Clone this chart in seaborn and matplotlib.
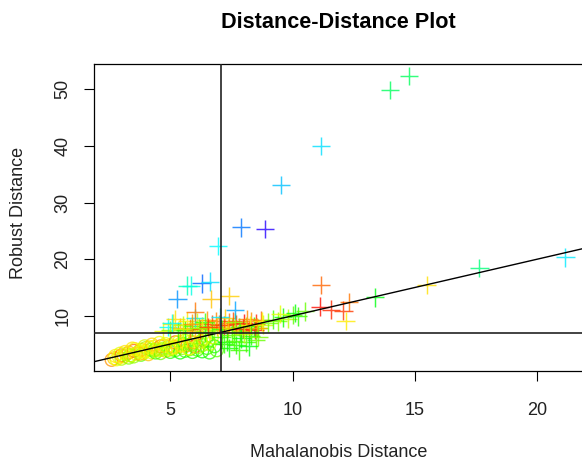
import matplotlib
matplotlib.use("Agg")
import matplotlib.pyplot as plt
import seaborn as sns
import pandas as pd
import numpy as np

# ---------------- data ----------------
# regular points (both distances below cutoff) -> circles
md_regular = [2.6, 2.7, 2.8, 2.9, 3.0, 3.0, 3.1, 3.2, 3.3, 3.3, 3.4, 3.5, 3.5, 3.6, 3.7, 3.8, 3.8, 3.9, 4.0, 4.0,
              4.1, 4.2, 4.2, 4.3, 4.4, 4.4, 4.5, 4.6, 4.6, 4.7, 4.8, 4.8, 4.9, 5.0, 5.0, 5.1, 5.2, 5.2, 5.3, 5.4,
              5.4, 5.5, 5.6, 5.6, 5.7, 5.8, 5.8, 5.9, 6.0, 6.0, 6.1, 6.2, 6.3, 6.3, 6.4, 6.5, 6.6, 6.6, 6.7, 6.8, 6.9,
              2.75, 2.95, 3.15, 3.35, 3.55, 3.75, 3.95, 4.15, 4.35, 4.55, 4.75, 4.95, 5.15, 5.35, 5.55, 5.75, 5.95,
              6.15, 6.35, 6.55, 3.45, 3.85, 4.25, 4.65, 5.05, 5.45, 5.85, 6.25]
rd_regular = [2.2, 2.5, 2.3, 2.7, 2.4, 3.0, 2.8, 3.2, 2.6, 3.5, 3.0, 3.8, 2.8, 3.3, 3.6, 4.0, 3.1, 3.4, 3.8, 4.3,
              3.2, 4.0, 3.6, 4.5, 3.5, 4.1, 3.9, 4.6, 3.4, 4.2, 3.8, 5.0, 4.4, 3.6, 4.8, 4.1, 5.3, 3.9, 4.6, 3.5,
              5.0, 4.3, 5.6, 3.8, 4.8, 4.1, 5.4, 3.6, 4.6, 5.9, 4.0, 5.2, 3.7, 4.8, 5.7, 4.3, 3.5, 5.0, 6.2, 4.6, 3.9,
              2.9, 3.3, 3.6, 3.0, 4.1, 3.3, 4.6, 4.4, 3.9, 5.2, 4.7, 4.0, 4.5, 5.4, 5.0, 4.2, 5.3,
              4.5, 5.9, 5.5, 4.2, 3.7, 4.9, 4.0, 4.3, 4.7, 4.9, 5.5]
val_regular = [0.10, 0.14, 0.18, 0.16, 0.22, 0.08, 0.15, 0.20, 0.25, 0.12, 0.18, 0.07, 0.24, 0.16, 0.21, 0.14, 0.28, 0.19, 0.17, 0.23,
               0.13, 0.26, 0.18, 0.15, 0.30, 0.20, 0.16, 0.09, 0.27, 0.22, 0.14, 0.18, 0.25, 0.31, 0.17, 0.21, 0.07, 0.29, 0.19, 0.33,
               0.16, 0.24, 0.20, 0.30, 0.12, 0.27, 0.18, 0.32, 0.06, 0.22, 0.29, 0.17, 0.33, 0.25, 0.14, 0.30, 0.32, 0.20, 0.18, 0.31, 0.28,
               0.16, 0.19, 0.15, 0.22, 0.17, 0.13, 0.20, 0.16, 0.24, 0.18, 0.15, 0.21, 0.14, 0.19, 0.26, 0.17, 0.12,
               0.23, 0.20, 0.27, 0.16, 0.18, 0.14, 0.22, 0.19, 0.15, 0.25, 0.21]

# flagged points -> crosses
md_flagged = [4.7, 4.9, 5.0, 5.1, 5.3, 5.4, 5.5, 5.6, 5.7, 5.8, 5.9, 6.0, 6.1, 6.2, 6.3, 6.4, 6.5, 6.6, 6.7, 6.8, 6.9, 5.2, 6.0, 6.4, 6.85,
              7.1, 7.2, 7.3, 7.4, 7.5, 7.6, 7.7, 7.8, 7.9, 8.0, 8.1, 8.2, 8.3, 8.4, 8.5, 8.6, 8.7, 8.8, 7.25, 7.55, 7.85, 8.15, 8.45, 8.75, 9.0,
              5.5, 5.9, 6.3, 6.7, 7.0, 7.35, 7.65, 7.95, 8.25, 8.55, 6.15, 6.55,
              7.1, 7.3, 7.5, 7.7, 7.9, 8.1, 8.3, 8.5, 7.4, 7.8, 8.2, 8.6, 7.2, 7.6, 8.0,
              9.2, 9.4, 9.6, 9.8, 10.0, 10.2, 10.5, 9.5, 10.1,
              14.75, 13.97, 11.15, 9.52, 7.89, 8.87, 6.95, 5.70, 5.85, 6.28, 6.62, 5.28, 6.66, 7.41, 6.00, 7.64, 7.03, 5.05,
              11.15, 11.11, 11.56, 12.30, 12.07, 12.16, 13.36, 15.47, 17.62, 21.14]
rd_flagged = [7.3, 8.0, 7.5, 8.6, 7.2, 7.9, 8.3, 7.4, 9.0, 7.7, 8.1, 7.3, 8.8, 7.6, 8.2, 7.1, 9.2, 7.8, 8.5, 7.4, 8.0, 9.4, 9.6, 8.9, 9.1,
              7.6, 8.3, 7.2, 8.8, 7.9, 7.4, 8.5, 8.0, 7.3, 8.7, 8.2, 7.6, 9.0, 8.1, 8.6, 7.8, 9.2, 8.4, 9.6, 9.1, 7.1, 9.4, 7.5, 9.0, 8.8,
              7.6, 8.6, 7.9, 7.2, 8.4, 7.8, 8.9, 7.7, 8.3, 7.9, 7.9, 8.0,
              6.2, 5.4, 6.6, 4.8, 6.0, 5.3, 6.5, 5.8, 4.3, 3.9, 4.6, 6.3, 5.0, 5.6, 6.8,
              9.3, 9.0, 9.7, 9.5, 10.1, 9.9, 10.8, 10.3, 10.5,
              52.35, 49.9, 40.0, 33.1, 25.6, 25.3, 22.3, 15.3, 15.3, 15.7, 16.0, 12.95, 12.95, 13.5, 10.7, 11.0, 9.8, 8.7,
              15.4, 11.6, 11.1, 12.4, 10.9, 9.1, 13.25, 15.4, 18.4, 20.3]
val_flagged = [0.18, 0.50, 0.25, 0.15, 0.30, 0.12, 0.22, 0.33, 0.16, 0.08, 0.28, 0.14, 0.20, 0.03, 0.26, 0.32, 0.10, 0.18, 0.05, 0.24, 0.13, 0.15, 0.52, 0.30, 0.09,
               0.30, 0.02, 0.15, 0.08, 0.25, 0.18, 0.04, 0.28, 0.12, 0.01, 0.22, 0.06, 0.10, 0.32, 0.03, 0.27, 0.07, 0.20, 0.14, 0.05, 0.30, 0.09, 0.02, 0.17, 0.26,
               0.20, 0.10, 0.16, 0.29, 0.06, 0.13, 0.24, 0.03, 0.18, 0.11, 0.25, 0.04,
               0.30, 0.33, 0.28, 0.31, 0.34, 0.29, 0.32, 0.27, 0.33, 0.30, 0.35, 0.26, 0.31, 0.29, 0.22,
               0.30, 0.25, 0.33, 0.22, 0.28, 0.31, 0.27, 0.19, 0.34,
               0.40, 0.40, 0.53, 0.55, 0.60, 0.70, 0.51, 0.46, 0.49, 0.61, 0.53, 0.58, 0.13, 0.14, 0.08, 0.57, 0.52, 0.50,
               0.07, 0.01, 0.03, 0.08, 0.04, 0.16, 0.35, 0.15, 0.42, 0.52]

md_cutoff = 7.05
rd_cutoff = 6.9
x_ticks = [5, 10, 15, 20]
y_ticks = [10, 20, 30, 40, 50]

regular = pd.DataFrame({"md": md_regular, "rd": rd_regular, "val": val_regular})
flagged = pd.DataFrame({"md": md_flagged, "rd": rd_flagged, "val": val_flagged})

# ---------------- style ----------------
sns.set_theme(style="white")
plt.rcParams["font.family"] = ["Liberation Sans", "DejaVu Sans"]

fig = plt.figure(figsize=(5.82, 4.62), dpi=100)
W, H = 582, 462
left_px, right_px, top_px, bottom_px = 93.5, 584.0, 64.4, 371.2
ax = fig.add_axes([left_px / W, 1 - bottom_px / H, (right_px - left_px) / W, (bottom_px - top_px) / H])

sns.scatterplot(data=regular, x="md", y="rd", hue="val", palette="hsv", hue_norm=(0, 1),
                marker="o", s=85, linewidth=1.0, alpha=0.75, legend=False, ax=ax)
coll = ax.collections[-1]
fc = coll.get_facecolors()
coll.set_edgecolors(fc)
coll.set_facecolors("none")

sns.scatterplot(data=flagged, x="md", y="rd", hue="val", palette="hsv", hue_norm=(0, 1),
                marker="+", s=180, linewidth=1.05, alpha=0.8, legend=False, ax=ax)

ax.axline((0, 0), slope=1, color="black", lw=1.0, zorder=3)
ax.axvline(md_cutoff, color="#222222", lw=1.2, zorder=3)
ax.axhline(rd_cutoff, color="#222222", lw=1.2, zorder=3)

ax.set_xlim(1.86, 21.9)
ax.set_ylim(0.2, 54.4)
ax.set_xticks(x_ticks)
ax.set_yticks(y_ticks)
ax.set_xlabel("")
ax.set_ylabel("")
for s in ax.spines.values():
    s.set_color("black")
    s.set_linewidth(0.9)
ax.tick_params(axis="both", which="both", direction="out", length=7, width=0.8, color="black",
               labelsize=13, labelcolor="#222222")
ax.tick_params(axis="x", bottom=True, pad=15)
ax.tick_params(axis="y", left=True, pad=9)
for lab in ax.get_yticklabels():
    lab.set_rotation(90)
    lab.set_va("center")

fig.text(338.7 / W, 1 - 28 / H, "Distance-Distance Plot", ha="center", va="baseline",
         fontsize=15.6, fontweight="bold", color="black")
fig.text(338.7 / W, 1 - 457 / H, "Mahalanobis Distance", ha="center", va="baseline",
         fontsize=13, color="#222222")
fig.text(19 / W, 1 - 213 / H, "Robust Distance", ha="center", va="center", rotation=90,
         fontsize=13, color="#222222")

fig.savefig("out.png", dpi=100)
